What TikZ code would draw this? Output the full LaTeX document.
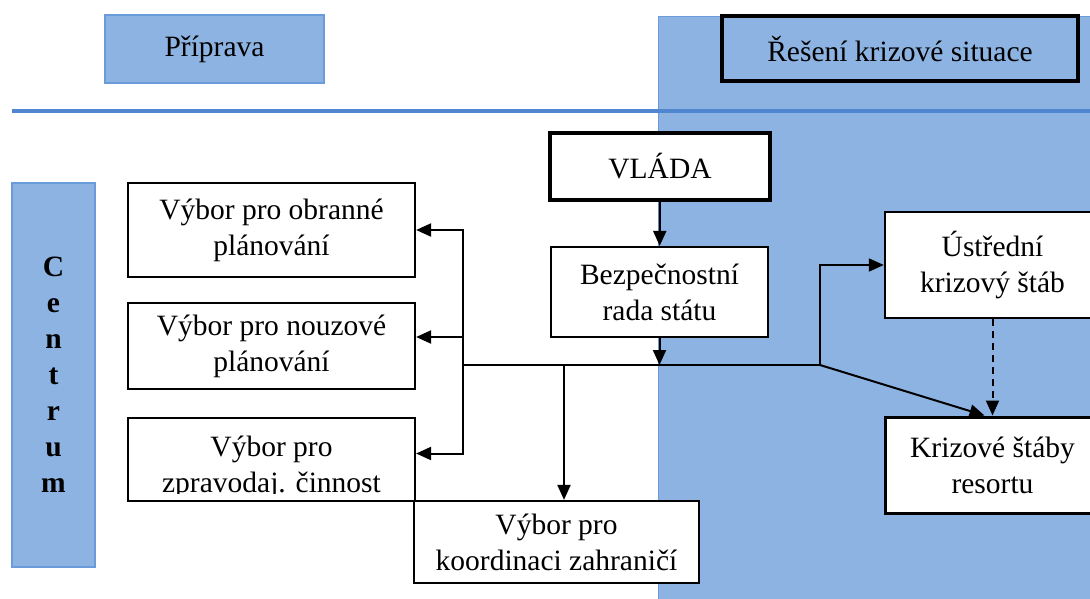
\documentclass[tikz,border=0pt]{standalone}
\usepackage{fontspec}
\setmainfont{Liberation Serif}
\usepackage{xcolor}
\usetikzlibrary{
    positioning,
    arrows.meta,
    calc
}
\definecolor{modra}{HTML}{8DB3E2}
\definecolor{modralinka}{HTML}{4F86CF}
\definecolor{modraokraj}{HTML}{6A9BDB}

\begin{document}
\begin{tikzpicture}[x=1pt, y=-1pt,
    box/.style={draw, fill=white, line width=2.2pt, align=center, inner sep=0pt,
        font=\fontsize{29.5}{36}\selectfont},
    hlavicka/.style={box, fill=modra, draw=modraokraj, line width=1.2pt},
    txt/.style={align=center, inner sep=0pt, font=\fontsize{29.5}{36}\selectfont},
    arr/.style={-{Triangle[length=15pt,width=13pt]}, line width=2pt}
]
    \clip (0,0) rectangle (1090,599);
    % modra plocha reseni krizove situace
    \fill[modra] (658,17) rectangle (1100,610);
    \draw[modraokraj, line width=1pt] (658,610) -- (658,17) -- (1100,17);
    \draw[modralinka, line width=4pt] (12,111) -- (1090,111);

    \node[hlavicka, minimum width=219, minimum height=68] (priprava) at (214.5,49) {Příprava};
    \node[box, fill=modra, line width=3.2pt, minimum width=356, minimum height=65] (reseni) at (900,48.5) {Řešení krizové situace};
    \node[hlavicka, font=\fontsize{29.5}{36}\selectfont\bfseries, minimum width=83, minimum height=384] (centrum) at (53.5,375) {C\\e\\n\\t\\r\\u\\m};

    \node[box, minimum width=287, minimum height=94] (obr) at (271.5,230) {Výbor pro obranné\\plánování};
    \node[box, minimum width=287, minimum height=86] (nouz) at (271.5,346) {Výbor pro nouzové\\plánování};
    \node[box, minimum width=287, minimum height=83] (zprav) at (271.5,459.5) {};
    \begin{scope}
        \clip ([yshift=9pt]zprav.south west) rectangle (zprav.north east);
        \node[txt] (zpravtxt) at (271.5,467) {Výbor pro\\zpravodaj. činnost};
    \end{scope}
    \node[box, minimum width=285, minimum height=82] (koord) at (556.5,542) {Výbor pro\\koordinaci zahraničí};

    \node[box, line width=4pt, minimum width=220, minimum height=67] (vlada) at (660,166.5) {VLÁDA};
    \node[box, minimum width=217, minimum height=90] (bezp) at (659.5,292) {Bezpečnostní\\rada státu};
    \node[box, line width=2.4pt, minimum width=215, minimum height=106] (ustr) at (992.5,265) {Ústřední\\krizový štáb};
    \node[box, line width=3pt, minimum width=215, minimum height=96] (kriz) at (992.5,465) {Krizové štáby\\resortu};

    % spojnice
    \coordinate (l) at (463,365);
    \coordinate (r) at (820,365);
    \coordinate (k) at (564,365);
    \draw[line width=2pt] (l) -- (r);
    \draw[arr] (vlada) -- (bezp);
    \draw[arr] (bezp) -- (bezp |- l);
    \draw[arr] (l) |- (obr.east);
    \draw[arr] (l) |- ([yshift=9pt]nouz.east);
    \draw[arr] (l) |- ([yshift=6pt]zprav.east);
    \draw[arr] (k) -- (k |- koord.north);
    \draw[arr] (r) |- (ustr.west);
    \draw[arr] (r) -- ([xshift=-8pt]kriz.north);
    \draw[arr, dash pattern=on 7pt off 5pt] (ustr) -- (kriz);
\end{tikzpicture}
\end{document}
